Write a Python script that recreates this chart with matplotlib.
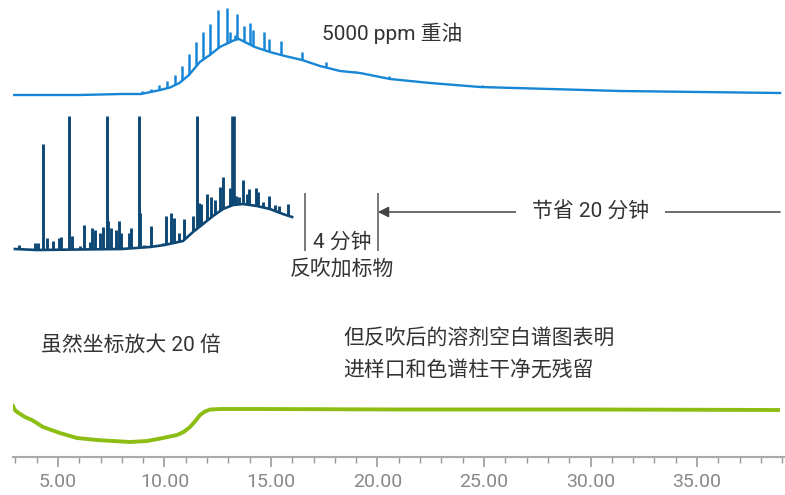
import numpy as np
import matplotlib
matplotlib.use('Agg')
import matplotlib.pyplot as plt
from matplotlib.ticker import MultipleLocator, FormatStrFormatter

plt.rcParams['font.family'] = ['Roboto', 'Noto Sans CJK SC', 'DejaVu Sans']

# 5000 ppm heavy oil, full run (minutes, signal)
oil_t = [2.89, 6.0, 8.0, 8.9, 9.8, 10.26, 10.7, 11.15, 11.66, 12.13, 12.6, 13.3, 13.5,
         13.77, 14.24, 14.95, 15.65, 16.46, 17.3, 18.24, 19.18, 20.59, 22.47, 24.82,
         28.1, 31.39, 35.15, 38.9]
oil_h = [0, 0, 1, 1, 5, 7.5, 12, 20, 33, 40, 48, 55, 56,
         53, 48, 43, 39, 35, 29, 24, 22, 16, 12, 8,
         6, 4, 3, 2]
oil_peak_t = [8.05, 8.94, 9.37, 9.74, 10.12, 10.49, 10.82, 11.15, 11.48, 11.81, 12.14,
              12.51, 12.93, 13.08, 13.31, 13.40, 13.73, 14.01, 14.15, 14.67, 14.91,
              15.47, 16.46, 17.58, 18.94, 20.54, 22.56, 24.91, 27.68, 31.06]
oil_peak_h = [2, 4, 6, 10, 14, 20, 29, 41, 53, 63, 71,
              85, 87, 63, 60, 81, 69, 72, 65, 63, 56,
              54, 43, 33, 24, 19, 13, 10, 7, 5]

# backflush run with internal standards, stops at 16 min
bf_t = [2.98, 4.0, 8.0, 9.32, 10.0, 10.87, 11.34, 11.81, 12.28, 12.75, 13.22, 13.69,
        14.34, 14.95, 15.56, 15.99]
bf_h = [1, 0, 1, 3, 5, 9, 18, 26, 34, 41, 45, 46, 44, 41, 36, 33]
bf_peak_t = [3.17, 3.92, 4.06, 4.30, 4.48, 4.77, 5.05, 5.14, 5.52, 5.66, 6.03, 6.22,
             6.50, 6.60, 6.74, 6.97, 7.11, 7.30, 7.35, 7.49, 7.72, 7.86, 7.96, 8.33,
             8.43, 8.80, 8.85, 9.04, 9.37, 9.93, 10.07, 10.31, 10.45, 10.68, 10.92,
             11.34, 11.53, 11.62, 11.71, 12.00, 12.18, 12.37, 12.61, 12.75, 13.08,
             13.22, 13.36, 13.50, 13.69, 13.87, 13.97, 14.30, 14.39, 14.62, 14.91,
             15.19, 15.38, 15.80]
bf_peak_h = [5, 7, 7, 106, 12, 9, 12, 13, 134, 14, 4, 25,
             8, 22, 20, 17, 23, 134, 29, 22, 20, 29, 17, 17,
             22, 134, 37, 5, 24, 7, 34, 37, 32, 17, 31,
             34, 134, 47, 46, 56, 53, 50, 63, 73, 62,
             134, 54, 53, 70, 56, 61, 62, 58, 48, 54,
             45, 44, 46]

# solvent blank after backflush (x20 scale)
blank_t = [2.89, 2.98, 3.08, 3.45, 3.78, 4.30, 5.09, 5.89, 6.83, 7.58, 8.38, 9.18, 9.93,
           10.59, 10.9, 11.2, 11.45, 11.67, 11.9, 12.15, 12.61, 14.48, 21.06, 30.45, 38.8]
blank_h = [39, 35, 33, 28, 25, 18, 12, 7, 5, 4, 3, 4, 7,
           10, 13, 18, 24, 30, 33.5, 35.5, 36, 36, 35.5, 35.5, 35]

tick_fmt = '%.2f'

c_oil = '#1786d6'
c_bf = '#0d4875'
c_blank = '#8cbd12'
c_txt = '#333333'
c_ann = '#555555'

fig = plt.figure(figsize=(7.85, 4.95), dpi=100)
ax = fig.add_axes([13 / 785, 38 / 495, 772 / 785, 457 / 495])
ax.set_xlim(2.89, 39.13)
ax.set_ylim(0, 457)


def trace(t, h, pk_t, pk_h, y0, color, lw, pk_lw):
    t = np.asarray(t)
    h = np.asarray(h) + y0
    if pk_t:
        # tall peak after 13 min is broader than the rest
        widths = [pk_lw * 1.6 if v >= 130 and tt > 13 else pk_lw for tt, v in zip(pk_t, pk_h)]
        ax.vlines(pk_t, y0, np.asarray(pk_h) + y0, colors=color, lw=widths, zorder=1)
        ax.fill_between(t, y0 - 2, h, color='white', lw=0, zorder=2)
    ax.plot(t, h, color=color, lw=lw, solid_joinstyle='round', zorder=3)


trace(oil_t, oil_h, oil_peak_t, oil_peak_h, 362, c_oil, 1.7, 1.8)
trace(bf_t, bf_h, bf_peak_t, bf_peak_h, 207, c_bf, 1.9, 2.1)
trace(blank_t, blank_h, [], [], 12, c_blank, 2.8, 0)

fs = 15
ax.text(17.39, 424, '5000 ppm 重油', fontsize=fs, color=c_txt, va='center', ha='left')

# backflush markers and time saved
ax.vlines([16.6, 20.02], 206, 264, colors=c_ann, lw=1.1)
ax.annotate('', xy=(20.02, 245), xytext=(38.9, 245),
            arrowprops=dict(arrowstyle='-|>', color='#444444', lw=1.1,
                            mutation_scale=16, shrinkA=0, shrinkB=0))
ax.text(30.0, 245, '节省 20 分钟', fontsize=fs, color=c_txt, va='center', ha='center',
        bbox=dict(boxstyle='square,pad=0.75', fc='white', ec='none'))
ax.text(16.96, 215, '4 分钟', fontsize=fs, color=c_txt, va='center', ha='left')
ax.text(18.33, 187, '反吹加标物', fontsize=fs, color=c_txt, va='center', ha='center')

ax.text(4.2, 112, '虽然坐标放大 20 倍', fontsize=fs, color=c_txt, va='center', ha='left')
ax.text(18.38, 119, '但反吹后的溶剂空白谱图表明', fontsize=fs, color=c_txt, va='center', ha='left')
ax.text(18.38, 87, '进样口和色谱柱干净无残留', fontsize=fs, color=c_txt, va='center', ha='left')

for s in ['left', 'right', 'top']:
    ax.spines[s].set_visible(False)
ax.spines['bottom'].set_color('#aaaaaa')
ax.spines['bottom'].set_linewidth(1.5)
ax.set_yticks([])
ax.xaxis.set_major_locator(MultipleLocator(5))
ax.xaxis.set_minor_locator(MultipleLocator(1))
ax.xaxis.set_major_formatter(FormatStrFormatter(tick_fmt))
ax.tick_params(axis='x', which='major', length=7.5, width=1.2, color='#999999',
               labelcolor='#888888', labelsize=14, pad=4)
ax.tick_params(axis='x', which='minor', length=4.5, width=1.0, color='#999999')

fig.savefig('out.png', dpi=100)
